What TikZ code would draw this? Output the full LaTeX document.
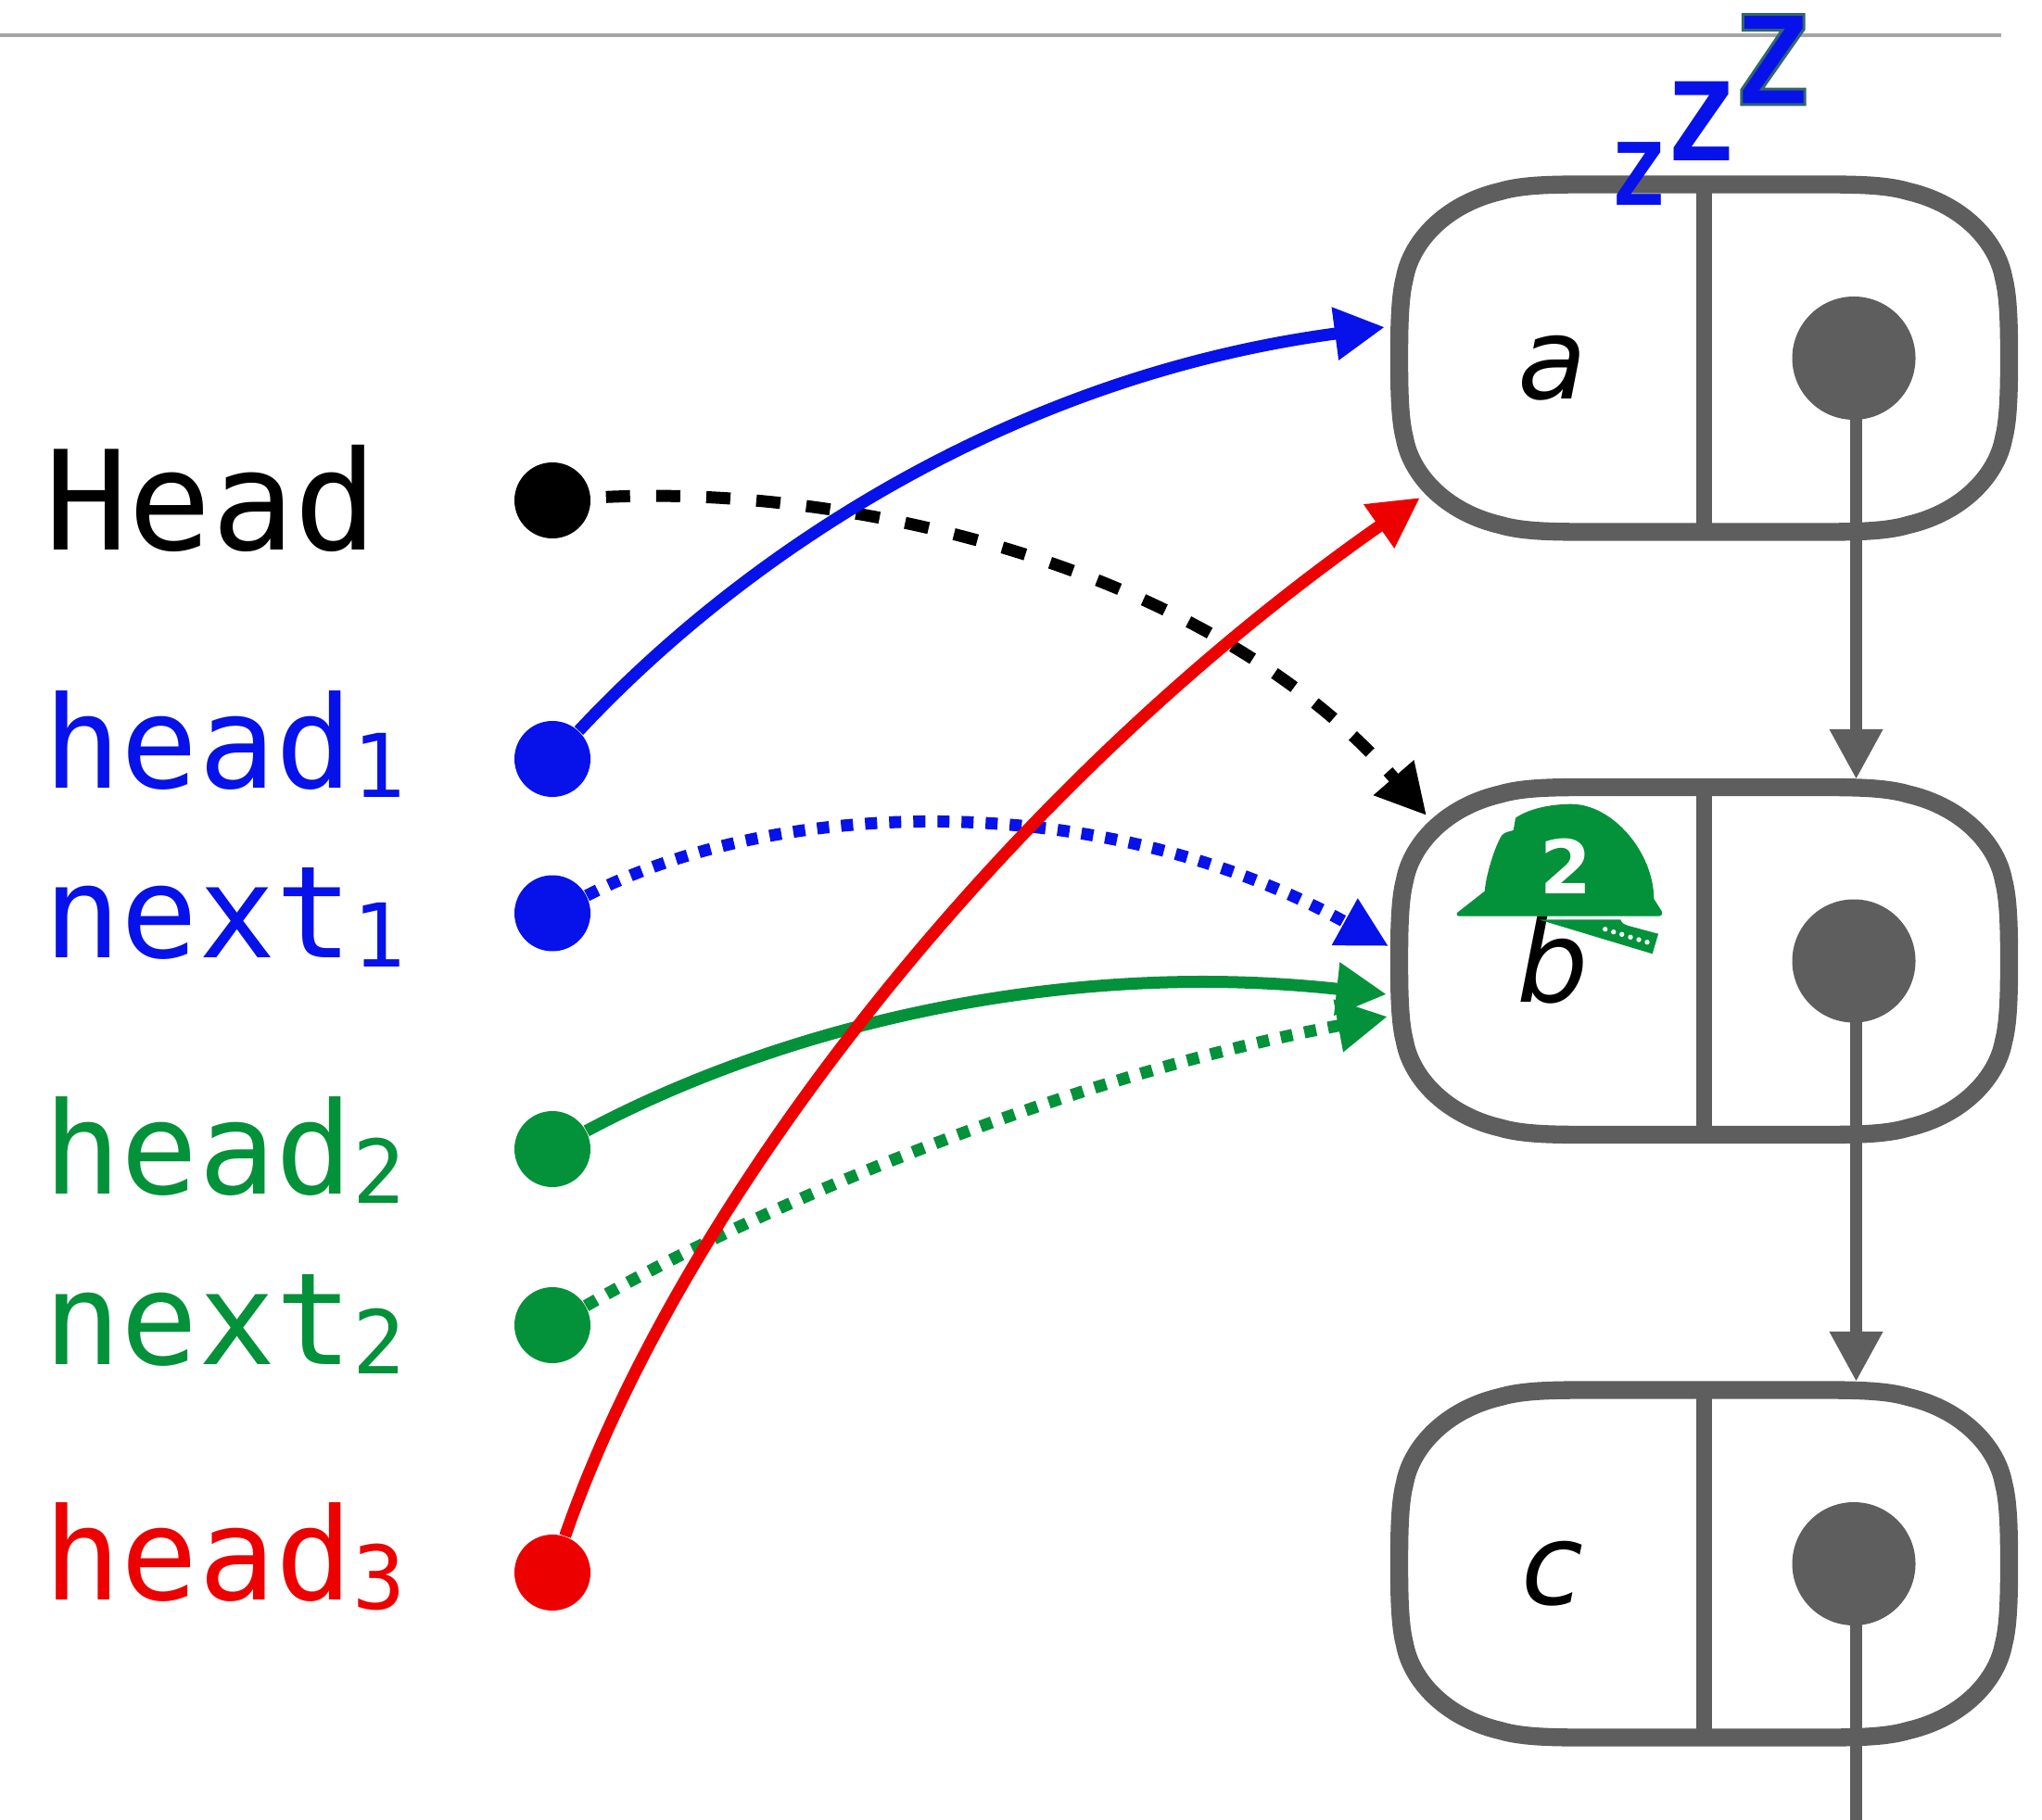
\documentclass[tikz,border=0pt]{standalone}
\usepackage{fontspec}
\usepackage{xcolor}
\usetikzlibrary{positioning,calc,arrows.meta}
\newfontfamily\codefont{DejaVu Sans Mono}
\newfontfamily\letterfont{DejaVu Sans}
\newcommand{\subnum}[1]{\raisebox{-2.9pt}{\fontsize{27}{30}\selectfont #1}}
\definecolor{listblue}{HTML}{0711E9}
\definecolor{listgreen}{HTML}{03913A}
\definecolor{listred}{HTML}{EC0000}
\definecolor{listgray}{HTML}{5E5E5E}
\definecolor{ruleline}{HTML}{A6A6A6}
\tikzset{
	listbox/.pic={
		\draw[listgray, line width=5.5pt] (3.29,0) .. controls (3.29,-0.4) and (3.28,-0.68) .. (3.23,-0.87) .. controls (3.16,-1.25) and (2.8,-1.66) .. (2.2,-1.80) .. controls (1.95,-1.875) and (1.6,-1.875) .. (1.2,-1.875) -- (-1.2,-1.875) .. controls (-1.6,-1.875) and (-1.95,-1.875) .. (-2.2,-1.80) .. controls (-2.8,-1.66) and (-3.16,-1.25) .. (-3.23,-0.87) .. controls (-3.28,-0.68) and (-3.29,-0.4) .. (-3.29,0) .. controls (-3.29,0.4) and (-3.28,0.68) .. (-3.23,0.87) .. controls (-3.16,1.25) and (-2.8,1.66) .. (-2.2,1.80) .. controls (-1.95,1.875) and (-1.6,1.875) .. (-1.2,1.875) -- (1.2,1.875) .. controls (1.6,1.875) and (1.95,1.875) .. (2.2,1.80) .. controls (2.8,1.66) and (3.16,1.25) .. (3.23,0.87) .. controls (3.28,0.68) and (3.29,0.4) .. (3.29,0) -- cycle;
		\draw[listgray, line width=5.1pt] (0,1.875) -- (0,-1.875);
	},
	vardot/.style={circle, inner sep=0pt, minimum size=0.82cm},
	ptrdot/.style={circle, fill=listgray, inner sep=0pt, minimum size=1.33cm},
	varname/.style={anchor=base west, inner sep=0pt, font=\codefont\fontsize{39.3}{48}\selectfont},
	keyname/.style={anchor=base, inner sep=0pt, font=\letterfont\itshape\fontsize{34.7}{42}\selectfont},
	zedname/.style={anchor=base, inner sep=0pt, text=listblue},
	varptr/.style={line width=3.7pt, -{Triangle[length=15.4pt, width=15.4pt]}},
	nextptr/.style={listgray, line width=3.7pt, -{Triangle[length=15.4pt, width=15.4pt]}},
	dotptr/.style={varptr, dash pattern=on 3.7pt off 3.7pt},
	dashptr/.style={varptr, dash pattern=on 7.4pt off 8pt, dash phase=10.8pt}
}
\begin{document}
\begin{tikzpicture}
	\useasboundingbox (0,0) rectangle (22.03,-19.64);
	\coordinate (rl) at (0,-0.38);
	\coordinate (rr) at (21.585,-0.38);
	\draw[ruleline, line width=0.9pt] (rl) -- (rr);

	\pic (boxa) at (18.385,-3.865) {listbox};
	\pic (boxb) at (18.385,-10.37) {listbox};
	\pic (boxc) at (18.385,-16.875) {listbox};

	\node[keyname] (ka) at (16.75,-4.31) {a};
	\node[keyname] (kb) at (16.75,-10.81) {b};
	\node[keyname] (kc) at (16.75,-17.31) {c};

	\node[ptrdot] (pa) at (20.0,-3.865) {};
	\node[ptrdot] (pb) at (20.0,-10.37) {};
	\node[ptrdot] (pc) at (20.0,-16.875) {};
	\coordinate (tb) at (20.025,-8.41);
	\coordinate (tc) at (20.025,-14.91);
	\coordinate (te) at (20.025,-19.64);
	\draw[nextptr] (pa.center -| tb) -- (tb);
	\draw[nextptr] (pb.center -| tc) -- (tc);
	\draw[listgray, line width=3.7pt] (pc.center -| te) -- (te);

	\node[varname, font=\codefont\fontsize{42.4}{50}\selectfont] (lh) at (0.48,-5.94) {Head};
	\node[varname, text=listblue] (lh1) at (0.47,-8.50) {head\subnum{1}};
	\node[varname, text=listblue] (ln1) at (0.47,-10.33) {next\subnum{1}};
	\node[varname, text=listgreen] (lh2) at (0.47,-12.88) {head\subnum{2}};
	\node[varname, text=listgreen] (ln2) at (0.47,-14.72) {next\subnum{2}};
	\node[varname, text=listred] (lh3) at (0.47,-17.26) {head\subnum{3}};

	\node[vardot, fill=black] (dh) at (5.96,-5.40) {};
	\node[vardot, fill=listblue] (d1) at (5.96,-8.19) {};
	\node[vardot, fill=listblue] (e1) at (5.96,-9.855) {};
	\node[vardot, fill=listgreen] (d2) at (5.96,-12.40) {};
	\node[vardot, fill=listgreen] (e2) at (5.96,-14.30) {};
	\node[vardot, fill=listred] (d3) at (5.96,-16.97) {};

	\coordinate (t1) at (14.94,-3.53);
	\coordinate (t2) at (14.96,-10.73);
	\coordinate (t3) at (15.32,-5.37);
	\coordinate (t4) at (14.97,-10.97);
	\coordinate (t5) at (14.98,-10.21);
	\coordinate (t6) at (15.39,-8.80);

	\draw[varptr, listgreen] (d2) .. controls (8.3,-11.15) and (11.3,-10.33) .. (t2);
	\draw[dotptr, listgreen] (e2) .. controls (7.95,-13.15) and (11.3,-11.65) .. (t4);
	\draw[dotptr, listblue] (e1) .. controls (8.4,-8.6) and (11.9,-8.5) .. (t5);
	\draw[dashptr] (dh) .. controls (9,-5.2) and (13,-6.05) .. (t6);
	\draw[varptr, listblue] (d1) .. controls (8.1,-5.9) and (11,-4.05) .. (t1);
	\draw[varptr, listred] (d3) .. controls (7.3,-13.1) and (10.7,-8.6) .. (t3);

	\fill[listgreen] (15.72,-9.85) -- (16.017,-9.617) .. controls (16.03,-9.45) and (16.12,-9.15) .. (16.2,-9.017) .. controls (16.23,-8.98) and (16.29,-8.97) .. (16.327,-8.96) -- (16.35,-8.827) .. controls (16.5,-8.72) and (16.75,-8.677) .. (16.95,-8.677) .. controls (17.4,-8.677) and (17.84,-9.2) .. (17.843,-9.7) -- (17.927,-9.833) .. controls (17.94,-9.87) and (17.92,-9.887) .. (17.9,-9.887) -- (15.75,-9.887) .. controls (15.71,-9.887) and (15.71,-9.86) .. cycle;
	\fill[listgreen] (16.6,-9.923) -- (17.483,-9.923) .. controls (17.49,-9.96) and (17.53,-9.98) .. (17.567,-9.99) -- (17.89,-10.077) -- (17.827,-10.293) -- cycle;
	\fill[white] (17.317,-10.027) circle (0.027) (17.407,-10.057) circle (0.027) (17.497,-10.083) circle (0.027) (17.59,-10.113) circle (0.027) (17.68,-10.14) circle (0.027) (17.77,-10.167) circle (0.027);
	\node[anchor=base, inner sep=0pt, text=white, font=\letterfont\bfseries\fontsize{22.8}{28}\selectfont] (hatnum) at (16.89,-9.64) {2};

	\node[zedname, font=\codefont\bfseries\fontsize{26.5}{30}\selectfont] (z1) at (17.675,-2.22) {Z};
	\node[zedname, font=\codefont\bfseries\fontsize{33.3}{38}\selectfont] (z2) at (18.345,-1.74) {Z};
	\node[zedname, font=\codefont\bfseries\fontsize{38}{44}\selectfont] (z3) at (19.115,-1.13) {\special{pdf:code 2 Tr 0.85 w 0.2 0.4 0.42 RG}Z\special{pdf:code 0 Tr}};
\end{tikzpicture}
\end{document}
